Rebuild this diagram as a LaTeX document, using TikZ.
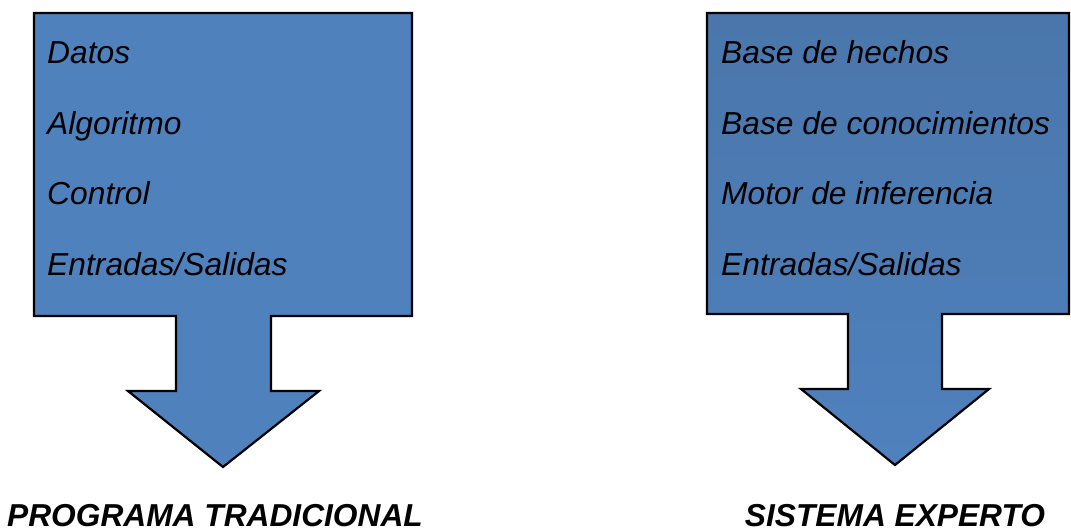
\documentclass[tikz,border=0pt]{standalone}
\usepackage{fontspec}
\setmainfont{Liberation Sans}
\begin{document}
\begin{tikzpicture}[x=1pt,y=-1pt,
  callout/.style={draw=black,line width=2.2pt,line join=miter,fill=boxblue},
  item/.style={anchor=base west,inner sep=0pt,font=\fontsize{31.8}{36}\selectfont\itshape},
  caption/.style={anchor=base,inner sep=0pt,font=\fontsize{31.7}{36}\selectfont\bfseries\itshape}]
\definecolor{boxblue}{HTML}{4F81BD}
\definecolor{boxblueTop}{HTML}{4A76AB}
\useasboundingbox (0,0) rectangle (1071,531);

% traditional program: box with downward arrow
\draw[callout] (34,13) -- (412,13) -- (412,316) -- (271,316) -- (271,391)
  -- (319,391) -- (223,467) -- (128,391) -- (176,391) -- (176,316)
  -- (34,316) -- cycle;
\node[item] (datos) at (47,63) {Datos};
\node[item] (algo)  at (47,134) {Algoritmo};
\node[item] (ctrl)  at (47,204) {Control};
\node[item] (es1)   at (47,275) {Entradas/Salidas};
\node[caption] (prog) at (215,526) {PROGRAMA TRADICIONAL};

% expert system: box with downward arrow
\draw[callout,top color=boxblueTop,bottom color=boxblue]
  (707,13) -- (1069,13) -- (1069,314) -- (942,314) -- (942,389)
  -- (989,389) -- (895,465) -- (801,389) -- (848,389) -- (848,314)
  -- (707,314) -- cycle;
\node[item] (hechos) at (721,63) {Base de hechos};
\node[item] (conoc)  at (721,134) {Base de conocimientos};
\node[item] (motor)  at (721,204) {Motor de inferencia};
\node[item] (es2)    at (721,275) {Entradas/Salidas};
\node[caption] (sist) at (895,526) {SISTEMA EXPERTO};
\end{tikzpicture}
\end{document}
